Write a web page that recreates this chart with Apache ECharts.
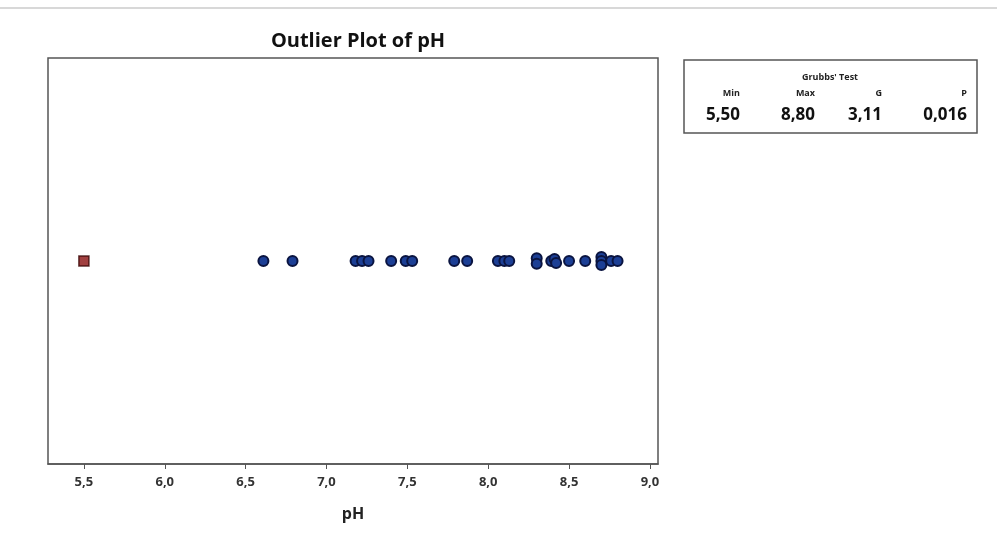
<!DOCTYPE html>
<html><head><meta charset="utf-8">
<script src="https://cdn.jsdelivr.net/npm/echarts@6/dist/echarts.min.js"></script>
<style>html,body{margin:0;padding:0;background:#fff;}#c{width:997px;height:533px;}</style>
</head><body><div id="c"></div>
<script>
// pH values (x) with small vertical offsets used to separate tied points (y)
const normalPH   = [6.61, 6.79, 7.18, 7.22, 7.26, 7.40, 7.49, 7.53, 7.79, 7.87, 8.06, 8.10, 8.13, 8.30, 8.30, 8.39, 8.41, 8.42, 8.50, 8.60, 8.70, 8.70, 8.70, 8.76, 8.80];
const normalJit  = [0, 0, 0, 0, 0, 0, 0, 0, 0, 0, 0, 0, 0, 0.014, -0.014, 0, 0.01, -0.01, 0, 0, 0.02, 0, -0.02, 0, 0];
const outlierPH  = [5.50];
const tickValues = [5.5, 6.0, 6.5, 7.0, 7.5, 8.0, 8.5, 9.0];
const grubbsHead = ['Min', 'Max', 'G', 'P'];
const grubbsVals = ['5,50', '8,80', '3,11', '0,016'];

const font = '"Open Sans", "Noto Sans", sans-serif';
const fmt = v => v.toFixed(1).replace('.', ',');

const chart = echarts.init(document.getElementById('c'));
const colRight = [740, 815, 882, 967];
const graphics = [
  {type:'line', shape:{x1:0,y1:8,x2:997,y2:8}, style:{stroke:'#d8d8d8', lineWidth:2}},
  {type:'rect', shape:{x:684,y:60,width:293,height:73}, style:{fill:'#fff', stroke:'#555', lineWidth:1.5}},
  {type:'text', x:830, y:77, style:{text:"Grubbs' Test", font:'bold 9px ' + font, fill:'#222', textAlign:'center', textVerticalAlign:'middle'}}
];
grubbsHead.forEach((h,i)=>graphics.push({type:'text', x:colRight[i], y:93, style:{text:h, font:'bold 9px ' + font, fill:'#222', textAlign:'right', textVerticalAlign:'middle'}}));
grubbsVals.forEach((v,i)=>graphics.push({type:'text', x:colRight[i], y:115, style:{text:v, font:'bold 17px ' + font, fill:'#111', textAlign:'right', textVerticalAlign:'middle'}}));

chart.setOption({
  animation:false,
  backgroundColor:'#fff',
  title:{text:'Outlier Plot of pH', left:353, top:26, textAlign:'center',
    textStyle:{fontFamily:font, fontSize:20, fontWeight:'bold', color:'#111'}},
  grid:{left:48, right:339, top:58, bottom:69, show:true, borderColor:'#555', borderWidth:1.5, backgroundColor:'#fff'},
  xAxis:{type:'value', min:5.278, max:9.05,
    name:'pH', nameLocation:'middle', nameGap:42,
    nameTextStyle:{fontFamily:font, fontSize:16, fontWeight:'bold', color:'#222'},
    axisLine:{show:true, onZero:false, lineStyle:{color:'#555', width:1.5}},
    axisTick:{show:true, length:5, lineStyle:{color:'#555'}, customValues:tickValues},
    axisLabel:{customValues:tickValues, formatter:fmt, margin:12, fontFamily:font, fontSize:13, fontWeight:'bold', color:'#333'},
    splitLine:{show:false}},
  yAxis:{type:'value', min:-1, max:1, show:false, splitLine:{show:false}},
  graphic:graphics,
  series:[
    {type:'scatter', symbol:'circle', symbolSize:10,
      itemStyle:{color:'#1c3f95', borderColor:'#0a1440', borderWidth:2, opacity:1},
      data: normalPH.map((v,i)=>[v, normalJit[i]])},
    {type:'scatter', symbol:'rect', symbolSize:10,
      itemStyle:{color:'#8a1010', borderColor:'#3a0505', borderWidth:1.5},
      data: outlierPH.map(v=>[v, 0])}
  ]
});
</script></body></html>
